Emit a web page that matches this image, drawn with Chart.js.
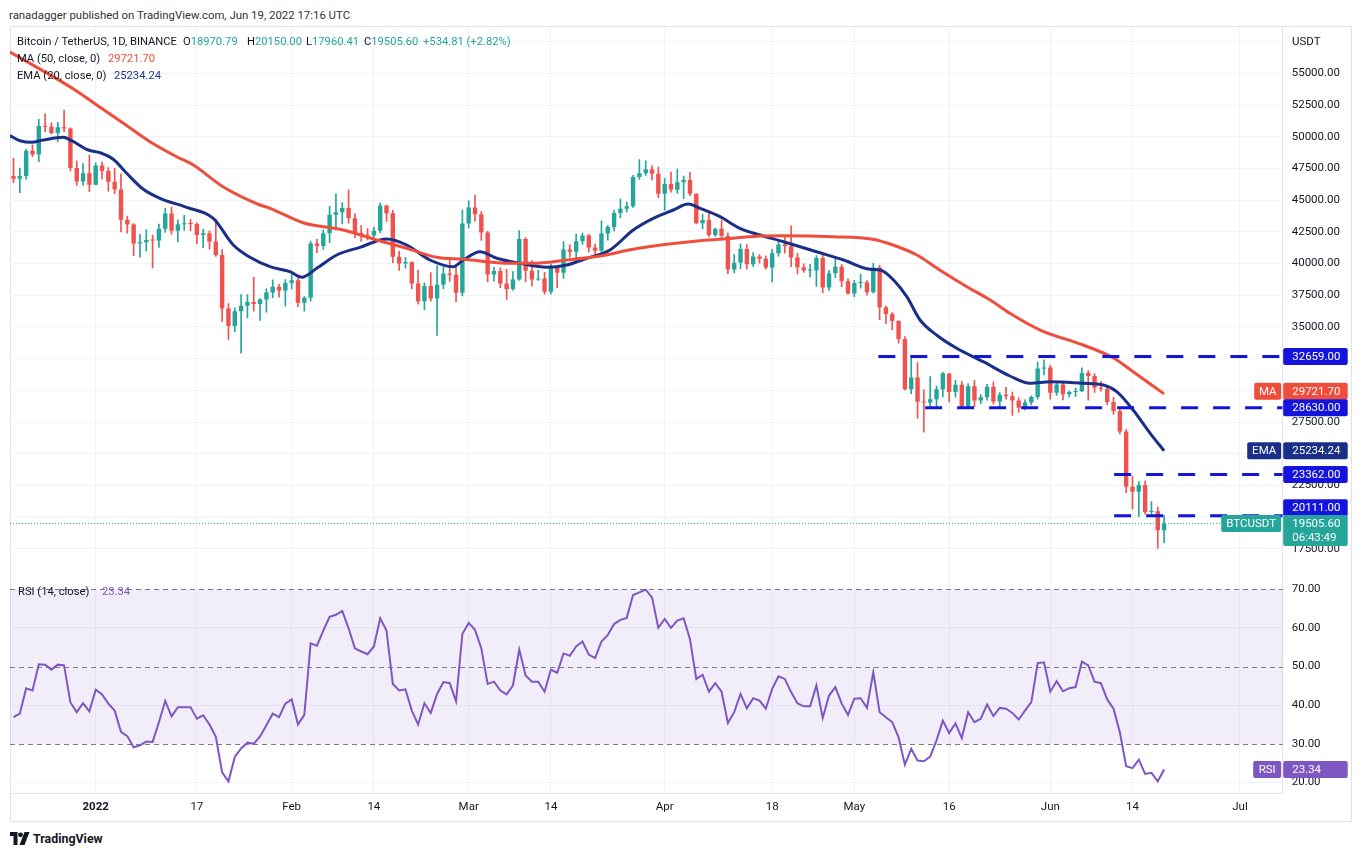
<!DOCTYPE html>
<html>
<head>
<meta charset="utf-8">
<script src="https://cdn.jsdelivr.net/npm/chart.js@4.4.0/dist/chart.umd.min.js"></script>
<style>
  body { margin:0; background:#fff; width:1362px; height:856px; overflow:hidden; position:relative;
         font-family: Roboto, "Noto Sans", sans-serif; color:#131722; }
  #pub { position:absolute; left:9px; top:7px; font-size:11.4px; color:#333; line-height:16px; }
  #frame { position:absolute; left:10px; top:26px; width:1342px; height:796px; box-sizing:border-box;
           border:1px solid #e0e3eb; }
  #priceBox { position:absolute; left:10px; top:27px; width:1342px; height:550px; }
  #rsiBox { position:absolute; left:10px; top:577px; width:1342px; height:245px; }
  .lg { position:absolute; font-size:11.2px; line-height:16px; white-space:nowrap; }
  .up { color:#26a69a; }
  #usdt { position:absolute; left:1292px; top:33px; font-size:11.5px; line-height:16px; }
  #logo { position:absolute; left:10px; top:831px; font-size:12.4px; font-weight:bold; line-height:16px; }
  #logo svg { vertical-align:-2px; margin-right:3px; }
</style>
</head>
<body>
<div id="pub">ranadagger published on TradingView.com, Jun 19, 2022 17:16 UTC</div>
<div id="frame"></div>
<div id="priceBox"><canvas id="price"></canvas></div>
<div id="rsiBox"><canvas id="rsi"></canvas></div>

<div class="lg" style="left:17px;top:34px">Bitcoin / TetherUS, 1D, BINANCE</div>
<div class="lg" style="left:183px;top:34px">O<span class="up">18970.79</span></div>
<div class="lg" style="left:247px;top:34px">H<span class="up">20150.00</span></div>
<div class="lg" style="left:306px;top:34px">L<span class="up">17960.41</span></div>
<div class="lg" style="left:364px;top:34px">C<span class="up">19505.60</span></div>
<div class="lg up" style="left:423px;top:34px">+534.81 (+2.82%)</div>
<div class="lg" style="left:17px;top:51px">MA (50, close, 0)</div>
<div class="lg" style="left:108px;top:51px;color:#ef4e3c">29721.70</div>
<div class="lg" style="left:17px;top:68px">EMA (20, close, 0)</div>
<div class="lg" style="left:114px;top:68px;color:#1c3590">25234.24</div>
<div id="usdt">USDT</div>
<div class="lg" style="left:18px;top:584px">RSI (14, close)</div>
<div class="lg" style="left:102px;top:584px;color:#7e57c2">23.34</div>
<div id="logo"><svg width="20" height="13" viewBox="0 0 20 13"><path d="M0 0h7.5v13H3.5V4H0z" fill="#131722"/><circle cx="10.5" cy="2.8" r="2.4" fill="#131722"/><path d="M14.5 0h5l-5 13h-5z" fill="#131722"/></svg>TradingView</div>

<script>
// day offsets are counted from Jan 1 2022 (0); first candle is Dec 19 2021
const firstDay = -13;

const opens = [46900,46680,46900,48900,48600,50850,50780,50300,50740,50640,47540,46460,47120,
  46220,47720,47290,46450,45830,43450,43080,41570,41680,41860,41820,42740,43950,42590,43100,43180,43110,42250,42380,41740,40680,36450,35070,36240,36660,36960,36810,37160,37720,38170,37880,
  38470,38690,36900,37310,41570,41380,42380,43840,44040,44380,43570,42410,42240,42200,42590,44580,43960,40540,40000,40120,38430,37020,38230,37250,38330,39220,39120,37700,
  43160,44420,43890,42450,39140,39400,38420,37990,38730,41940,39420,38730,38810,37780,39670,39280,41110,40920,41760,42200,41260,41000,42360,42880,43990,44310,44510,46830,47120,47430,47070,
  45510,46280,45810,46410,46580,45500,43170,43440,42250,42750,42160,39530,40070,41150,39940,40550,40380,39680,40800,41500,41360,40480,39710,39440,39450,40430,38110,39240,39740,38600,
  37630,38470,38530,37730,39690,36550,36010,35470,34040,30080,31020,29100,29030,29290,30090,31330,29870,30440,28720,30320,29200,29450,30290,29110,29650,29540,29200,28630,29030,29470,31730,
  31800,29800,30450,29700,29860,29920,31370,31130,30200,30110,29080,28360,26760,22400,22000,22530,20400,20470,18970.79];

const highs = [48300,47530,49000,49350,51370,51800,51100,51140,52100,50700,48100,47880,48560,
  47940,47990,47570,47500,47070,43750,43150,42300,42680,42250,43100,44350,44460,43450,43800,43480,43200,42690,42580,43500,41100,36840,36500,37550,37550,38920,37230,38000,38720,38360,38740,
  39270,38860,37390,41770,41910,42660,44500,45490,44800,45820,43920,43000,42760,42880,44770,44580,44200,40960,40480,40140,39490,38470,39280,39840,39730,40300,39880,44230,
  44950,45400,44100,42530,39690,39650,39550,39360,42590,42040,40240,39490,39310,39950,39860,41720,41480,42330,42400,42300,41540,43360,43020,44220,45090,44840,46950,48190,48100,47700,47600,
  46720,47210,47440,46890,47200,45500,43900,43970,42800,43410,42420,40700,41560,41500,40870,40710,40600,41120,41760,42200,42980,40800,39980,39930,40620,40800,39470,40370,39920,38800,
  38680,39170,38650,40020,39850,36650,36130,35500,34240,32660,32190,30030,31080,30340,31420,31330,30790,30680,30540,30780,29660,30480,30660,29830,30230,29860,29400,29250,29560,32220,32400,
  31980,30690,30690,29950,30180,31770,31550,31330,30700,30400,29450,28550,26900,23230,22800,22850,21220,20790,20150];

const lows = [46380,45580,46650,48420,48030,50400,50200,49600,50400,47300,46150,46150,45660,
  46210,46650,45700,45500,42500,42400,40610,40500,41000,39650,41270,42450,42310,41730,42600,42590,41540,41250,41140,40550,35440,34010,34600,32920,35700,36240,35510,36160,37300,37350,36630,
  38000,36590,36250,37030,40850,41120,41640,42670,43120,43180,42030,41750,41870,41570,42430,43310,40070,39450,39640,38000,36800,36350,37040,34320,38010,38580,37000,37450,
  42800,43330,41830,38550,38610,38090,37160,37870,38660,38540,38220,38660,37580,37580,38100,38830,40500,40130,41500,40920,40500,40860,41840,42580,43590,44070,44420,46640,46940,46600,45200,
  44200,45620,45530,45120,45350,43120,42730,42110,42130,41870,39200,39250,39590,39550,39770,40020,39550,38540,40570,40820,39750,39180,39290,38930,38200,37700,37880,38880,38180,37580,
  37390,38050,37500,37670,35570,35260,34790,33710,30030,29730,27790,26700,28750,28620,29480,29090,29460,28660,28690,28730,28950,29230,28900,28640,29300,28020,28260,28450,28850,29300,31210,
  29300,29600,29250,29480,29520,29890,29220,29840,29940,28850,28100,26560,21930,20640,20040,20230,20250,17540,17960.41];

const closes = [46680,46900,48900,48600,50850,50780,50300,50740,50640,47540,46460,47120,46220,
  47720,47290,46450,45830,43450,43080,41570,41680,41860,41820,42740,43950,42590,43100,43180,43110,42250,42380,41740,40680,36450,35070,36240,36660,36960,36810,37160,37720,38170,37880,38470,
  38690,36900,37310,41570,41380,42380,43840,44040,44380,43570,42410,42240,42200,42590,44580,43960,40540,40000,40120,38430,37020,38230,37250,38330,39220,39120,37700,43160,
  44420,43890,42450,39140,39400,38420,37990,38730,41940,39420,38730,38810,37780,39670,39280,41110,40920,41760,42200,41260,41000,42360,42880,43990,44310,44510,46830,47120,47430,47070,45510,
  46280,45810,46410,46580,45500,43170,43440,42250,42750,42160,39530,40070,41150,39940,40550,40380,39680,40800,41500,41360,40480,39710,39440,39450,40430,38110,39240,39740,38600,37630,
  38470,38530,37730,39690,36550,36010,35470,34040,30080,31020,29100,29030,29290,30090,31330,29870,30440,28720,30320,29200,29450,30290,29110,29650,29540,29200,28630,29030,29470,31730,31800,
  29800,30450,29700,29860,29920,31370,31130,30200,30110,29080,28360,26760,22400,22000,22530,20400,20470,18970.79,19505.6];

// MA 50 and EMA 20 at sample days
const maDays = [-13.56,-3.27,0.16,4.32,8.59,12.81,15.44,20.14,25.98,27.56,32.79,39.12,44.45,49.2,53.94,58.15,65.53,69.17,74.5,79.77,84.99,90.32,95.56,100.8,105.1,108.7,116.6,122.9,126.1,129.9,133.5,137.8,141.5,144.6,149.4,156.2,161.0,164.1,169];
const maValues = [56680,53683,52500,51081,49606,48423,47769,46057,44614,44354,43218,42643,41854,41200,40490,40332,40017,40017,40277,40593,41120,41515,41799,41988,42169,42193,42114,41909,41460,40671,39488,38171,37122,36073,34756,33573,32548,31468,29721.7];
const emaDays = [-13.56,-11.98,-10.12,-8.29,-5.13,-3.8,-1.17,0.68,2.78,4.9,7.53,10.17,14.39,18.6,21.77,24.41,27.57,30.74,32.59,34.96,38.12,41.81,46.03,49.19,52.88,56.56,58.15,60.79,63.43,67.1,71.34,74.5,77.66,81.35,85.03,88.2,91.36,93.74,95.59,98.75,101.9,105.1,108.8,114.0,118.3,122.5,124.1,126.2,128.3,130.4,133.0,136.2,140.4,144.6,147.8,151.0,156.2,159.4,161.5,164.1,166.8,169];
const emaValues = [50079,49685,49559,49740,49953,49685,48952,48739,48218,47114,45852,45143,44433,43566,41460,40490,39749,39354,38913,39622,40671,41278,41933,41460,40277,39749,40277,40931,40411,40017,39701,39883,40411,41065,42643,43565,44220,44693,44354,43692,42777,42248,41720,40931,40277,39543,39488,38700,37383,35545,34362,33313,32257,31129,30553,30680,30553,30419,29891,28447,26611,25234.24];

const rsi = [36.9,37.8,44.4,43.8,50.6,50.5,49.2,50.5,50.3,40.7,38.2,40.5,38.4,
  44.0,42.8,40.4,38.6,33.1,32.0,29.1,29.6,30.6,30.5,35.6,41.1,37.1,39.5,39.5,39.5,36.5,37.4,35.0,31.8,22.6,20.3,26.6,28.8,30.3,30.0,31.9,34.8,37.8,36.9,40.4,
  41.5,35.0,37.5,56.0,55.4,59.3,62.9,63.4,64.4,59.9,54.7,53.9,53.2,55.2,62.5,59.3,45.5,43.8,44.1,38.6,35.0,40.5,38.0,42.9,46.0,45.7,41.0,58.4,
  61.3,59.5,54.7,45.5,46.1,43.8,42.8,45.1,54.4,47.7,46.1,46.1,43.5,49.2,48.4,53.4,52.8,55.2,56.5,53.1,52.2,56.5,58.2,61.0,62.1,62.6,68.5,69.2,69.9,67.9,60.0,
  62.3,60.0,61.9,62.5,57.1,46.8,47.9,43.5,45.7,43.5,35.4,38.2,42.9,39.2,41.8,41.2,39.1,44.2,47.5,46.8,43.4,40.5,39.7,39.7,45.1,36.7,42.5,44.7,40.4,37.5,
  41.7,41.8,39.3,48.5,38.2,36.9,35.6,31.7,24.6,28.7,25.7,25.5,26.7,30.9,36.0,32.8,35.3,31.5,38.2,35.6,36.5,40.2,37.2,39.3,39.1,38.0,36.3,38.6,40.8,50.9,51.1,
  43.5,46.2,43.6,44.4,44.7,51.3,50.3,46.1,45.7,41.5,39.1,33.0,24.2,23.7,25.9,22.2,22.5,20.3,23.34];

// horizontal levels drawn on the chart and the day they start from
const levels = [32659, 28630, 23362, 20111];
const levelFrom = [123.8, 131.2, 161.1, 161.1];

const tickDays = [0, 16, 31, 44, 59, 72, 90, 107, 120, 135, 151, 164, 181];
const tickNames = ['2022', '17', 'Feb', '14', 'Mar', '14', 'Apr', '18', 'May', '16', 'Jun', '14', 'Jul'];
const priceTicks = [17500, 20000, 22500, 25000, 27500, 30000, 32500, 35000, 37500, 40000, 42500, 45000, 47500, 50000, 52500, 55000, 57500];
const rsiTicks = [20, 30, 40, 50, 60, 70];
const rsiLevels = [70, 50, 30];

const xMin = -13.556, xMax = 187.76;
const upColor = '#26a69a', downColor = '#ef5350';
const maColor = '#ef4e3c', emaColor = '#1a2f88', levelColor = '#1414dc', rsiColor = '#7e57c2';
const gridColor = '#f0f3fa', borderColor = '#e0e3eb';
const axisFont = { family: 'Roboto', size: 11.5 };

const days = closes.map((c, i) => firstDay + i);
const candleColors = closes.map((c, i) => c >= opens[i] ? upColor : downColor);
const lastClose = closes[closes.length - 1];
const lastMa = maValues[maValues.length - 1];
const lastEma = emaValues[emaValues.length - 1];
const lastRsi = rsi[rsi.length - 1];

function box(ctx, x, y, w, h, color) {
  ctx.fillStyle = color;
  ctx.beginPath();
  ctx.roundRect(x, y, w, h, 2);
  ctx.fill();
}

// price scale tags (value boxes, optional name tag left of the axis)
function drawTags(chart, tags) {
  const { ctx, chartArea, scales: { y } } = chart;
  ctx.save();
  ctx.font = '11.5px Roboto';
  ctx.textBaseline = 'middle';
  tags.forEach(t => {
    const py = y.getPixelForValue(t.value) + (t.shift || 0);
    const left = chartArea.right + 0.5;
    box(ctx, left, py - 8.5, 64.5, t.sub ? 31 : 17, t.color);
    ctx.fillStyle = '#fff';
    ctx.textAlign = 'left';
    ctx.fillText(t.value.toFixed(2), left + 9, py + 0.5);
    if (t.sub) ctx.fillText(t.sub, left + 9, py + 15);
    if (t.tag) {
      box(ctx, chartArea.right - 1.5 - t.tagW, py - 8.5, t.tagW, 17, t.color);
      ctx.fillStyle = '#fff';
      ctx.textAlign = 'center';
      ctx.fillText(t.tag, chartArea.right - 1.5 - t.tagW / 2, py + 0.5);
    }
  });
  ctx.restore();
}

const priceTags = {
  id: 'priceTags',
  afterDraw(chart) {
    drawTags(chart, [
      { value: levels[0], color: levelColor },
      { value: lastMa, color: maColor, tag: 'MA', tagW: 27, shift: -2.5 },
      { value: levels[1], color: levelColor },
      { value: lastEma, color: emaColor, tag: 'EMA', tagW: 34 },
      { value: levels[2], color: levelColor },
      { value: levels[3], color: levelColor, shift: -8 },
      { value: lastClose, color: upColor, tag: 'BTCUSDT', tagW: 60, sub: '06:43:49' }
    ]);
  }
};

const flatLine = (y, from, color, dash, width) => ({
  type: 'line',
  data: [{ x: from, y: y }, { x: xMax, y: y }],
  borderColor: color, borderDash: dash, borderWidth: width,
  pointRadius: 0, order: 1
});

new Chart(document.getElementById('price'), {
  type: 'bar',
  data: {
    datasets: [
      flatLine(lastClose, xMin, upColor, [1, 2], 1),
      {
        type: 'bar', grouped: false, order: 4,
        data: days.map((d, i) => ({ x: d, y: [lows[i], highs[i]] })),
        backgroundColor: candleColors, barThickness: 1
      },
      {
        type: 'bar', grouped: false, order: 3,
        data: days.map((d, i) => ({ x: d, y: [opens[i], closes[i]] })),
        backgroundColor: candleColors, barPercentage: 0.7, categoryPercentage: 1, minBarLength: 1
      },
      {
        type: 'line', order: 2, data: maDays.map((d, i) => ({ x: d, y: maValues[i] })),
        borderColor: maColor, borderWidth: 3, pointRadius: 0, cubicInterpolationMode: 'monotone'
      },
      {
        type: 'line', order: 2, data: emaDays.map((d, i) => ({ x: d, y: emaValues[i] })),
        borderColor: emaColor, borderWidth: 3, pointRadius: 0, cubicInterpolationMode: 'monotone'
      },
      ...levels.map((v, i) => flatLine(v, levelFrom[i], levelColor, [17, 15], 3))
    ]
  },
  options: {
    responsive: true, maintainAspectRatio: false, animation: false,
    layout: { padding: 0 },
    plugins: { legend: { display: false }, tooltip: { enabled: false } },
    scales: {
      x: {
        type: 'linear', min: xMin, max: xMax, offset: false,
        grid: { color: gridColor, drawTicks: false, offset: false },
        border: { color: borderColor },
        ticks: { display: false },
        afterBuildTicks: s => { s.ticks = tickDays.map(v => ({ value: v })); },
        afterFit: s => { s.height = 0; s.paddingLeft = 0; s.paddingRight = 0; }
      },
      y: {
        position: 'right', min: 15279, max: 58651,
        grid: { color: gridColor, drawTicks: false },
        border: { color: borderColor },
        ticks: { padding: 9, color: '#131722', font: axisFont, callback: v => v === 57500 ? '' : v.toFixed(2) },
        afterBuildTicks: s => { s.ticks = priceTicks.map(v => ({ value: v })); },
        afterFit: s => { s.width = 69.3; s.paddingTop = 0; s.paddingBottom = 0; }
      }
    }
  },
  plugins: [priceTags]
});

const rsiPane = {
  id: 'rsiPane',
  beforeDatasetsDraw(chart) {
    const { ctx, chartArea: a, scales: { y } } = chart;
    ctx.save();
    ctx.fillStyle = 'rgba(126, 87, 194, 0.1)';
    const top = y.getPixelForValue(rsiLevels[0]);
    const bottom = y.getPixelForValue(rsiLevels[2]);
    ctx.fillRect(a.left, top, a.right - a.left, bottom - top);
    ctx.strokeStyle = '#787b86';
    ctx.lineWidth = 1;
    ctx.setLineDash([5, 4]);
    rsiLevels.forEach(v => {
      const py = Math.round(y.getPixelForValue(v)) + 0.5;
      ctx.beginPath();
      ctx.moveTo(a.left, py);
      ctx.lineTo(a.right, py);
      ctx.stroke();
    });
    ctx.restore();
  },
  afterDraw(chart) {
    drawTags(chart, [{ value: lastRsi, color: rsiColor, tag: 'RSI', tagW: 28 }]);
  }
};

new Chart(document.getElementById('rsi'), {
  type: 'line',
  data: {
    datasets: [{
      data: days.map((d, i) => ({ x: d, y: rsi[i] })),
      borderColor: rsiColor, borderWidth: 2, pointRadius: 0
    }]
  },
  options: {
    responsive: true, maintainAspectRatio: false, animation: false,
    layout: { padding: 0 },
    plugins: { legend: { display: false }, tooltip: { enabled: false } },
    scales: {
      x: {
        type: 'linear', min: xMin, max: xMax,
        grid: { color: gridColor, drawTicks: false },
        border: { color: borderColor },
        ticks: {
          padding: 7, color: '#131722', maxRotation: 0, autoSkip: false,
          font: c => ({ family: 'Roboto', size: 11.5, weight: c.tick && c.tick.value === 0 ? 'bold' : 'normal' }),
          callback: v => tickNames[tickDays.indexOf(v)]
        },
        afterBuildTicks: s => { s.ticks = tickDays.map(v => ({ value: v })); },
        afterFit: s => { s.height = 28.7; s.paddingLeft = 0; s.paddingRight = 0; }
      },
      y: {
        position: 'right', min: 17.2, max: 73.18,
        grid: { color: c => rsiLevels.includes(c.tick.value) ? 'rgba(0,0,0,0)' : gridColor, drawTicks: false },
        border: { color: borderColor },
        ticks: { padding: 9, color: '#131722', font: axisFont, callback: v => v.toFixed(2) },
        afterBuildTicks: s => { s.ticks = rsiTicks.map(v => ({ value: v })); },
        afterFit: s => { s.width = 69.3; s.paddingTop = 0; s.paddingBottom = 0; }
      }
    }
  },
  plugins: [rsiPane]
});
</script>
</body>
</html>
